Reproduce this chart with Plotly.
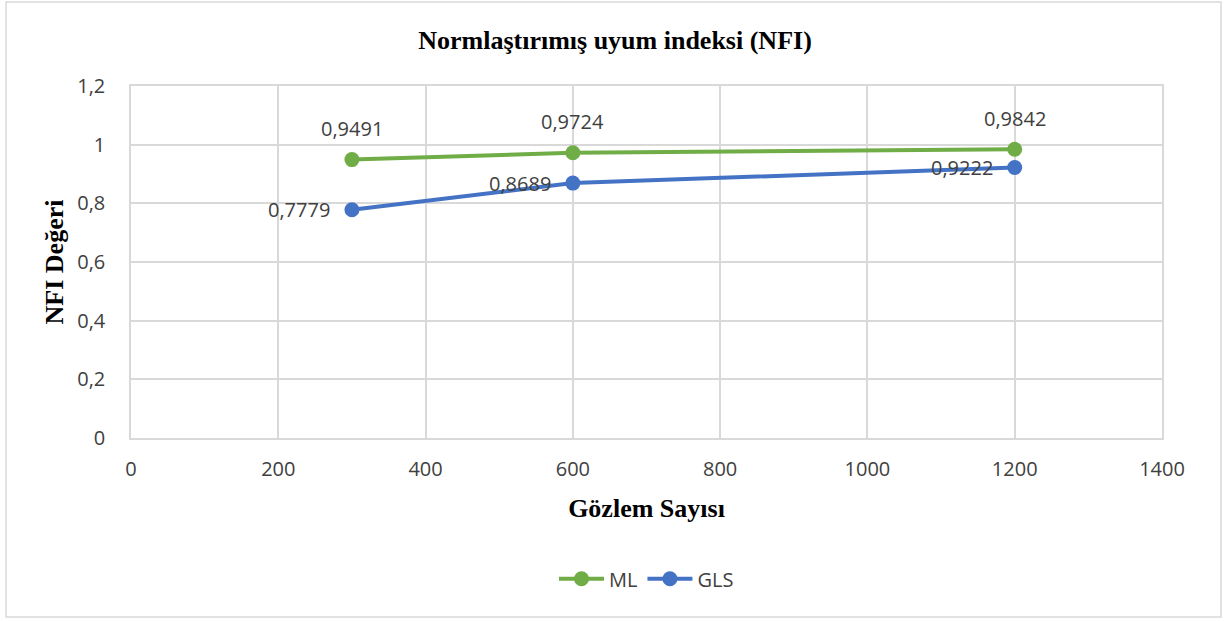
import plotly.graph_objects as go

n_obs = [300, 600, 1200]
ml_nfi = [0.9491, 0.9724, 0.9842]
gls_nfi = [0.7779, 0.8689, 0.9222]

x_ticks = [0, 200, 400, 600, 800, 1000, 1200, 1400]
y_ticks = [0, 0.2, 0.4, 0.6, 0.8, 1, 1.2]
y_tick_text = ["0", "0,2", "0,4", "0,6", "0,8", "1", "1,2"]


def fmt(v):
    return f"{v:.4f}".replace(".", ",")


green = "#70AD47"
blue = "#4472C4"
grid = "#D9D9D9"
txt = "#404040"
lab_font = dict(family="Open Sans, Liberation Sans", size=20, color=txt)
serif = "Liberation Serif, Times New Roman"

fig = go.Figure()
fig.add_trace(go.Scatter(
    x=n_obs, y=ml_nfi, name="ML", mode="lines+markers",
    line=dict(color=green, width=4), marker=dict(color=green, size=15),
))
fig.add_trace(go.Scatter(
    x=n_obs, y=gls_nfi, name="GLS", mode="lines+markers",
    line=dict(color=blue, width=4), marker=dict(color=blue, size=15),
))

# data labels: ML above the points, GLS to the left
anns = []
for x, y in zip(n_obs, ml_nfi):
    anns.append(dict(x=x, y=y, text=fmt(y), showarrow=False, font=lab_font,
                     xanchor="center", yanchor="middle", yshift=31))
for x, y in zip(n_obs, gls_nfi):
    anns.append(dict(x=x, y=y, text=fmt(y), showarrow=False, font=lab_font,
                     xanchor="right", yanchor="middle", xshift=-20))

fig.update_layout(
    width=1230, height=621,
    margin=dict(l=131, r=68, t=86, b=183),
    plot_bgcolor="white", paper_bgcolor="white",
    title=dict(text="<b>Normlaştırımış uyum indeksi (NFI)</b>",
               x=0.5, xanchor="center", y=0.935, yanchor="middle",
               font=dict(family=serif, size=26, color="black")),
    legend=dict(orientation="h", x=0.5, xanchor="center", y=-0.4, yanchor="middle",
                font=dict(family="Open Sans, Liberation Sans", size=20, color=txt),
                itemwidth=45),
    annotations=anns,
    shapes=[dict(type="rect", xref="paper", yref="paper",
                 x0=-0.1212, x1=1.0572, y0=-0.5085, y1=1.2386,
                 line=dict(color=grid, width=1.5), layer="below")],
)
fig.update_xaxes(
    range=[0, 1400], tickvals=x_ticks, showgrid=True, gridcolor=grid, gridwidth=1.5,
    showline=True, linecolor=grid, linewidth=1.5, mirror=True, zeroline=False,
    tickfont=lab_font, ticklabelstandoff=12,
    title=dict(text="<b>Gözlem Sayısı</b>", standoff=18,
               font=dict(family=serif, size=26, color="black")),
)
fig.update_yaxes(
    range=[0, 1.2], tickvals=y_ticks, ticktext=y_tick_text, showgrid=True,
    gridcolor=grid, gridwidth=1.5,
    showline=True, linecolor=grid, linewidth=1.5, mirror=True, zeroline=False,
    tickfont=lab_font, ticklabelstandoff=20,
    title=dict(text="<b>NFI Değeri</b>", standoff=6,
               font=dict(family=serif, size=26, color="black")),
)

fig.write_html("out.html", config={"displayModeBar": False},
               post_script="document.body.style.margin='0';")
